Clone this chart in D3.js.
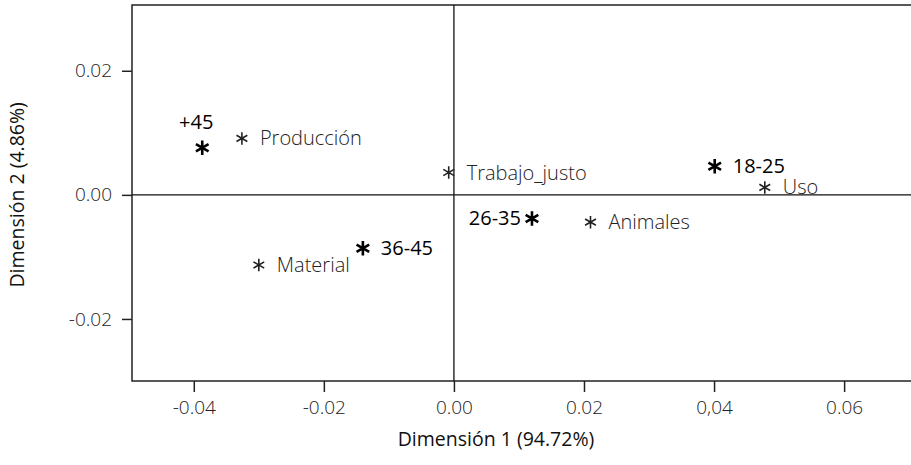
<!DOCTYPE html>
<html><head><meta charset="utf-8">
<script src="https://cdn.jsdelivr.net/npm/d3@7"></script>
<style>
html,body{margin:0;padding:0;background:#fff;overflow:hidden}
text{font-family:"Open Sans","Noto Sans",sans-serif}
</style></head>
<body><svg id="c" width="911" height="465"></svg>
<script>
// Data
const groupNames = ["+45", "36-45", "26-35", "18-25"];
const groupDim1  = [-0.0387, -0.0140, 0.0120, 0.0401];
const groupDim2  = [ 0.0076, -0.0086, -0.0038, 0.0046];

const catNames = ["Producción", "Material", "Trabajo_justo", "Animales", "Uso"];
const catDim1  = [-0.0326, -0.0300, -0.0008, 0.0210, 0.0478];
const catDim2  = [ 0.0091, -0.0113, 0.0036, -0.0044, 0.0012];

const xTickValues = [-0.04, -0.02, 0.00, 0.02, 0.04, 0.06];
const xTickLabels = ["-0.04", "-0.02", "0.00", "0.02", "0,04", "0.06"];
const yTickValues = [-0.02, 0.00, 0.02];
const yTickLabels = ["-0.02", "0.00", "0.02"];
const xTitle = "Dimensión 1 (94.72%)";
const yTitle = "Dimensión 2 (4.86%)";

// label placement (style)
const labelSide = {"+45":"top","26-35":"left"};

const svg = d3.select("#c");
const L = 132, R = 1062, T = 5, B = 381;
const x = d3.scaleLinear().domain([-0.0495, 0.0935]).range([L, R]);
const y = d3.scaleLinear().domain([-0.0300, 0.0306]).range([B, T]);

// axes
const xAxis = d3.axisBottom(x).tickValues(xTickValues)
  .tickFormat((d,i)=>xTickLabels[i]).tickSize(11).tickPadding(9);
const gx = svg.append("g").attr("transform",`translate(0,${B})`).call(xAxis);
const yAxis = d3.axisLeft(y).tickValues(yTickValues)
  .tickFormat((d,i)=>yTickLabels[i]).tickSize(10).tickPadding(10);
const gy = svg.append("g").attr("transform",`translate(${L},0)`).call(yAxis);
[gx,gy].forEach(g=>{
  g.select(".domain").remove();
  g.selectAll(".tick line").attr("stroke","#222").attr("stroke-width",1.5);
  g.selectAll(".tick text").attr("fill","#222").attr("font-size",19).attr("font-weight",300);
});
gx.selectAll(".tick text").attr("dy","0.71em");

// frame
svg.append("rect").attr("x",L).attr("y",T).attr("width",R-L).attr("height",B-T)
  .attr("fill","none").attr("stroke","#222").attr("stroke-width",1.5);

// zero lines
svg.append("line").attr("x1",x(0)).attr("x2",x(0)).attr("y1",T).attr("y2",B)
  .attr("stroke","#111").attr("stroke-width",1.3);
svg.append("line").attr("x1",L).attr("x2",R).attr("y1",y(0)).attr("y2",y(0))
  .attr("stroke","#111").attr("stroke-width",1.3);

// titles
svg.append("text").attr("x",496).attr("y",446).attr("text-anchor","middle")
  .attr("font-size",19.5).attr("fill","#111").text(xTitle);
svg.append("text").attr("transform",`translate(24,${y(0)}) rotate(-90)`)
  .attr("text-anchor","middle").attr("font-size",19.5).attr("fill","#111").text(yTitle);

const ast = d3.symbol().type(d3.symbolAsterisk);

// categories
catNames.forEach((n,i)=>{
  const px = x(catDim1[i]), py = y(catDim2[i]);
  svg.append("path").attr("d",ast.size(110)()).attr("transform",`translate(${px},${py})`)
    .attr("fill","none").attr("stroke","#222").attr("stroke-width",1.6);
  svg.append("text").attr("x",px+18).attr("y",py).attr("dy","0.35em")
    .attr("font-size",20).attr("font-weight",300).attr("fill","#222").text(n);
});

// groups
groupNames.forEach((n,i)=>{
  const px = x(groupDim1[i]), py = y(groupDim2[i]);
  svg.append("path").attr("d",ast.size(150)()).attr("transform",`translate(${px},${py})`)
    .attr("fill","none").attr("stroke","#000").attr("stroke-width",2.6);
  const side = labelSide[n] || "right";
  const t = svg.append("text").attr("font-size",20).attr("font-weight",500).attr("fill","#000").text(n);
  if(side==="top") t.attr("x",px-6).attr("y",py-19).attr("text-anchor","middle");
  else if(side==="left") t.attr("x",px-11).attr("y",py).attr("dy","0.35em").attr("text-anchor","end");
  else t.attr("x",px+18).attr("y",py).attr("dy","0.35em");
});
</script></body></html>
